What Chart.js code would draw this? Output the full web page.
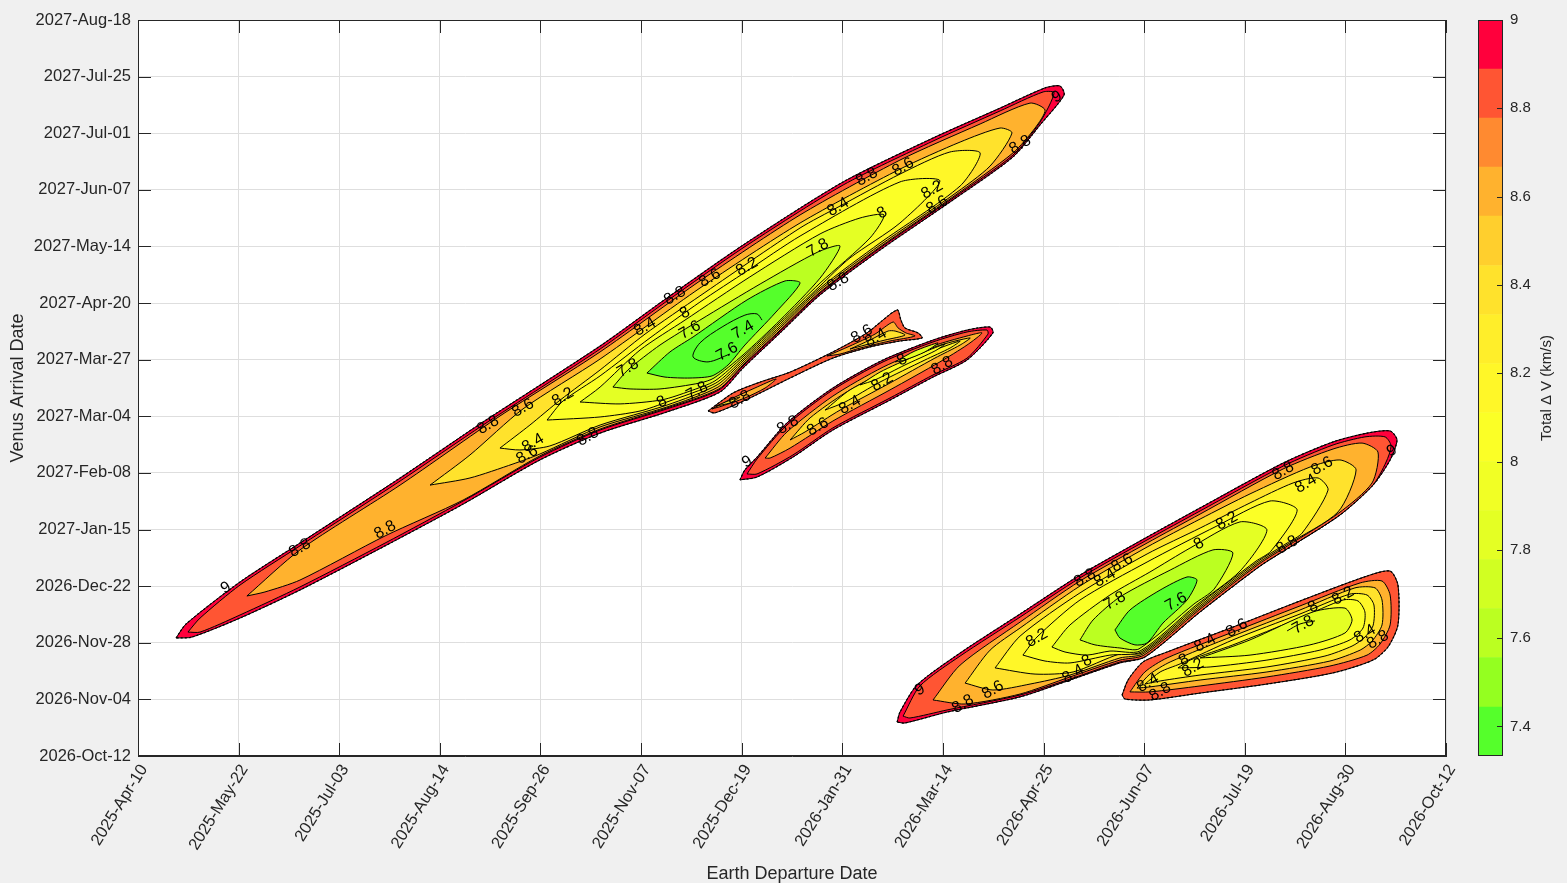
<!DOCTYPE html>
<html>
<head>
<meta charset="utf-8">
<script src="https://cdn.jsdelivr.net/npm/chart.js@4.4.1/dist/chart.umd.min.js"></script>
<style>
  html, body { margin: 0; padding: 0; background: #f0f0f0; }
  #wrap { position: relative; width: 1567px; height: 883px; }
  #main { position: absolute; left: 0; top: 0; }
  #cbar { position: absolute; left: 1446px; top: 0; }
</style>
</head>
<body>
<div id="wrap">
  <canvas id="main" width="1567" height="883"></canvas>
  <canvas id="cbar" width="121" height="883"></canvas>
</div>
<script>
// === DATI: assi in giorni (x dal 2025-Apr-10, y dal 2026-Oct-12) ===
const xSpanDays = 550;
const ySpanDays = 310;
const xTickLabels = ['2025-Apr-10', '2025-May-22', '2025-Jul-03', '2025-Aug-14', '2025-Sep-26', '2025-Nov-07', '2025-Dec-19',
  '2026-Jan-31', '2026-Mar-14', '2026-Apr-25', '2026-Jun-07', '2026-Jul-19', '2026-Aug-30', '2026-Oct-12'];
const yTickLabels = ['2026-Oct-12', '2026-Nov-04', '2026-Nov-28', '2026-Dec-22', '2027-Jan-15', '2027-Feb-08', '2027-Mar-04',
  '2027-Mar-27', '2027-Apr-20', '2027-May-14', '2027-Jun-07', '2027-Jul-01', '2027-Jul-25', '2027-Aug-18'];

// colorbar: 15 bande tra 7.333 e 9 km/s
const cbEdges = [7.333, 7.444, 7.556, 7.667, 7.778, 7.889, 8.0, 8.111, 8.222, 8.333, 8.444, 8.556, 8.667, 8.778, 8.889, 9.0];
const cbColors = ['#55ff2b', '#94ff20', '#bbff21', '#d1ff22', '#e4ff24', '#f1ff25', '#fbff26', '#fff728',
  '#ffee2a', '#ffe22c', '#ffcf2d', '#ffb22e', '#ff8a30', '#ff5533', '#ff003c'];
const cbTicks = [7.4, 7.6, 7.8, 8, 8.2, 8.4, 8.6, 8.8, 9];

// --- lobo A (grande, in alto a sinistra) ---
const A_edge = [[16.0,49.7],[20.2,55.6],[42.9,73.3],[68.1,89.7],[110.2,117.1],[145.1,140.7],[194.3,172.7],[222.4,192.9],[254.4,215.2],[296.5,241.8],[334.3,260.3],[362.5,272.9],[381.4,281.4],[387.7,282.2],[389.4,278.4],[379.3,265.8],[367.9,252.3],[342.7,234.2],[312.0,213.1],[286.8,194.2],[270.0,178.2],[254.4,163.4],[244.7,153.3],[222.4,144.9],[194.3,136.0],[169.0,124.7],[136.7,106.1],[103.9,88.5],[68.1,69.9],[42.9,58.1],[22.7,50.1]];
const A_9 = [[21.0,52.2],[26.1,58.1],[42.9,72.0],[68.1,88.5],[110.2,115.8],[145.1,139.4],[194.3,171.4],[222.4,191.6],[254.4,214.0],[296.5,240.5],[334.3,259.0],[362.5,271.7],[380.6,279.7],[385.2,279.3],[379.3,267.0],[367.9,253.1],[342.7,235.0],[312.0,214.0],[286.8,195.0],[270.0,179.0],[254.4,164.3],[244.3,154.2],[222.4,146.2],[194.3,137.3],[169.0,125.9],[136.7,107.4],[103.9,89.7],[68.1,71.2],[42.9,59.4],[26.1,52.2]];
const A_88 = [[45.8,67.4],[68.1,86.8],[110.2,114.1],[152.2,143.2],[194.3,170.2],[236.3,200.1],[278.4,227.9],[320.4,251.0],[354.1,266.2],[375.1,275.0],[381.4,272.1],[377.2,264.5],[367.9,254.0],[342.7,235.5],[312.0,214.4],[286.8,195.4],[270.0,179.4],[254.4,164.7],[244.3,154.6],[222.4,146.6],[194.3,137.7],[169.0,126.4],[136.7,107.8],[103.9,92.7],[68.1,74.1],[53.4,69.1]];
const A_86 = [[122.8,114.1],[139.6,126.8],[161.9,146.2],[194.3,167.2],[236.3,197.1],[278.4,224.5],[320.4,247.2],[345.7,258.6],[362.5,264.5],[367.5,262.4],[358.3,248.5],[342.7,236.3],[312.0,215.2],[286.8,196.3],[270.0,180.3],[254.4,165.5],[243.9,155.4],[222.4,147.0],[194.3,138.6],[169.0,127.2],[157.7,123.0],[139.6,117.1]];
const A_84 = [[152.2,129.7],[164.8,139.4],[177.5,149.9],[194.3,162.6],[213.2,177.7],[236.3,193.8],[278.4,222.4],[294.4,231.2],[320.4,245.1],[341.4,254.4],[354.1,254.0],[345.7,240.1],[312.0,216.1],[286.8,197.1],[270.0,181.1],[254.4,166.4],[243.5,156.3],[222.4,147.8],[194.3,139.4],[173.2,130.6],[160.6,128.9]];
const A_82 = [[172.0,141.5],[178.7,149.5],[194.3,160.1],[215.3,176.1],[236.3,191.2],[256.1,204.3],[278.4,219.0],[320.4,241.8],[337.2,242.2],[320.4,224.5],[299.4,209.8],[286.8,198.0],[270.0,182.0],[254.4,167.2],[243.0,157.1],[222.4,149.1],[211.1,145.3],[194.3,142.8]];
const A_80 = [[185.9,149.1],[194.3,155.4],[211.1,171.0],[230.0,183.6],[257.3,201.8],[286.8,219.9],[303.6,226.6],[313.7,227.9],[307.8,218.2],[286.8,199.2],[270.0,182.8],[254.4,168.1],[242.6,158.0],[232.1,153.7],[220.3,150.0],[202.7,148.3]];
const A_78 = [[199.7,155.4],[206.0,162.6],[219.5,173.1],[236.3,183.6],[261.6,198.8],[285.9,212.3],[295.2,214.8],[286.8,201.3],[270.0,183.6],[254.4,168.9],[242.2,159.2],[236.3,157.1],[219.5,154.6],[206.9,154.6]];
const A_76 = [[214.0,161.3],[223.7,170.2],[233.4,176.5],[256.1,192.1],[272.1,200.1],[278.4,199.2],[267.9,186.6],[255.2,173.1],[248.1,164.7],[241.4,160.1],[232.1,159.2],[221.6,159.6]];
const A_74 = [[248.9,169.3],[239.7,166.0],[233.4,168.1],[236.3,174.0],[245.6,180.7],[255.2,185.7],[260.3,186.2],[262.4,183.6]];

// --- lobo B (sottile, centrale) ---
const B_edge = [[239.7,145.3],[250.2,152.9],[261.6,157.5],[274.2,161.7],[292.2,170.2],[306.5,178.2],[319.2,187.9],[320.8,183.6],[322.5,180.3],[328.0,178.2],[329.7,176.1],[320.4,174.8],[307.8,172.3],[292.2,167.6],[274.2,159.2],[257.3,150.8],[242.6,144.5]];
const B_88L = [[241.4,146.2],[250.2,150.8],[259.4,155.0],[268.3,158.8],[263.7,155.0],[255.2,150.8],[245.6,147.4]];
const B_86L = [[243.0,147.4],[248.1,149.5],[253.1,151.2],[248.9,148.7]];
const B_88R = [[289.7,168.5],[299.4,172.7],[309.9,177.7],[317.5,182.8],[319.6,180.3],[322.9,178.2],[326.7,176.9],[316.2,174.8],[303.6,171.8],[295.2,169.3]];
const B_86R = [[299.4,171.4],[307.8,175.2],[315.4,179.0],[318.3,179.0],[322.5,177.3],[314.1,175.2],[305.7,173.1]];

// --- lobo C (centrale, sotto B) ---
const C_edge = [[253.1,116.3],[255.2,120.5],[260.3,125.9],[272.9,140.3],[292.2,155.0],[313.3,166.8],[334.3,175.2],[348.6,179.4],[358.3,180.7],[359.5,178.2],[348.6,166.8],[334.3,159.6],[316.2,149.9],[292.2,137.3],[275.4,125.9],[260.3,117.5]];
const C_9 = [[256.1,118.8],[260.3,125.1],[272.9,139.4],[292.2,154.2],[313.3,166.0],[334.3,174.4],[348.6,178.6],[357.0,179.4],[357.4,177.7],[348.6,167.6],[334.3,160.5],[316.2,150.8],[292.2,138.2],[275.4,126.8],[260.3,118.8]];
const C_88 = [[263.7,125.5],[272.9,136.5],[292.2,151.6],[313.3,163.8],[334.3,172.7],[348.6,176.9],[354.9,178.2],[348.6,173.1],[337.2,166.0],[316.2,154.2],[292.2,141.1],[274.2,129.7],[265.8,125.5]];
const C_86 = [[274.2,133.1],[282.6,142.4],[297.3,152.9],[316.2,163.4],[335.1,172.3],[349.9,176.1],[345.7,173.1],[335.1,167.6],[316.2,157.1],[295.2,145.7],[280.5,136.5]];
const C_84 = [[288.9,145.7],[299.4,154.2],[316.2,162.6],[335.1,171.0],[345.7,174.8],[341.4,171.8],[330.9,166.8],[312.0,157.5],[297.3,149.1]];
const C_82 = [[303.6,156.3],[312.0,161.7],[326.7,168.5],[339.3,173.5],[335.1,170.6],[322.5,164.7],[309.9,158.4]];
const C_80 = [[318.3,166.0],[326.7,170.6],[336.4,174.0],[330.9,170.2],[322.5,166.8]];

// --- lobo D (grande, in basso a destra) ---
const D_edge = [[319.2,14.3],[320.4,18.5],[327.6,29.9],[345.7,43.4],[370.9,59.8],[396.1,76.2],[424.3,92.2],[446.6,104.5],[481.5,123.4],[502.5,132.3],[516.8,136.0],[526.5,136.9],[529.4,133.1],[526.5,124.7],[519.3,114.1],[505.4,101.5],[484.4,88.0],[471.8,80.0],[446.6,60.7],[423.4,41.7],[412.9,39.2],[391.9,32.0],[370.9,24.9],[340.2,18.5],[322.5,13.9]];
const D_9 = [[321.7,16.8],[328.8,29.5],[345.7,42.1],[370.9,58.5],[396.1,75.0],[424.3,91.0],[446.6,103.2],[481.5,122.1],[502.5,131.0],[515.9,134.4],[524.4,134.4],[526.9,130.6],[524.8,123.8],[519.3,114.1],[505.4,101.5],[484.4,88.0],[471.8,80.0],[446.6,60.7],[423.4,41.7],[412.9,39.6],[391.9,32.4],[370.9,25.7],[340.2,19.4],[324.6,16.0]];
const D_88 = [[334.3,23.6],[345.7,38.3],[370.9,56.4],[396.1,73.7],[424.3,89.7],[446.6,101.9],[481.5,120.9],[502.5,129.3],[514.7,131.8],[521.4,128.0],[518.9,115.0],[505.0,102.4],[484.0,88.9],[471.4,80.9],[446.1,61.5],[423.0,42.5],[412.9,40.4],[391.9,33.3],[370.9,26.1],[347.8,21.9]];
const D_86 = [[347.8,30.7],[358.3,44.6],[370.9,53.9],[396.1,71.6],[424.3,88.0],[446.6,99.8],[467.6,110.4],[492.8,121.7],[505.4,124.7],[512.2,120.5],[504.6,102.8],[483.6,89.3],[471.0,81.3],[445.7,61.9],[422.6,43.0],[412.9,41.3],[391.9,34.1],[375.1,30.3],[359.5,27.8]];
const D_84 = [[360.4,37.1],[370.9,50.5],[396.1,68.7],[424.3,85.1],[446.6,96.0],[467.6,106.6],[485.7,115.0],[496.2,117.1],[500.4,112.0],[489.5,93.9],[483.2,89.7],[470.5,81.7],[445.3,62.3],[422.2,43.4],[412.9,43.0],[393.2,35.4],[377.2,34.5]];
const D_82 = [[372.1,42.5],[378.0,50.1],[396.1,65.7],[424.3,81.7],[453.7,96.9],[476.0,107.4],[487.4,103.6],[476.4,86.3],[470.1,82.1],[444.9,62.8],[421.8,43.8],[408.7,42.5],[391.9,39.2],[381.4,40.0]];
const D_80 = [[384.3,45.9],[391.9,55.2],[408.7,67.8],[425.5,77.5],[442.4,87.6],[463.4,98.6],[474.7,95.2],[463.4,77.9],[444.5,63.2],[421.3,44.2],[408.7,44.2],[399.0,42.5],[389.8,43.8]];
const D_78 = [[396.1,48.9],[401.6,57.3],[412.9,67.0],[434.0,78.3],[452.0,86.8],[460.4,85.5],[452.5,70.3],[444.0,64.0],[420.9,45.1],[412.9,45.5],[402.4,46.8]];
const D_76 = [[410.8,53.1],[417.1,61.5],[429.8,69.9],[441.1,75.4],[445.3,74.1],[441.1,65.7],[431.0,56.0],[424.3,47.6],[419.2,46.8],[412.9,49.7]];

// --- lobo E (piccolo, in basso a destra) ---
const E_edge = [[413.8,25.7],[416.3,32.0],[422.6,39.6],[432.7,43.8],[460.4,54.3],[488.6,65.3],[516.8,75.8],[526.5,77.9],[529.8,72.0],[529.8,55.2],[525.6,45.9],[519.3,40.4],[502.5,35.0],[474.7,30.3],[446.6,26.5],[425.5,23.6],[415.0,24.0]];
const E_88 = [[417.1,27.0],[423.4,35.4],[432.7,41.3],[460.4,52.2],[488.6,63.2],[513.9,72.9],[523.1,73.7],[526.5,67.8],[526.5,55.2],[522.3,47.2],[516.8,42.5],[501.2,37.9],[474.7,33.3],[446.6,29.5],[425.5,27.0]];
const E_86 = [[420.1,28.6],[425.5,34.5],[434.0,39.6],[460.4,50.5],[488.6,61.5],[511.7,70.8],[520.2,70.8],[523.1,65.7],[523.1,55.2],[518.9,48.4],[513.9,44.6],[501.2,40.0],[474.7,35.4],[446.6,32.0],[425.5,29.1]];
const E_84 = [[423.4,30.3],[429.8,35.4],[438.2,38.8],[460.4,48.9],[488.6,59.8],[509.6,68.2],[516.8,67.8],[519.7,63.6],[519.3,54.8],[515.5,49.7],[510.5,46.3],[499.1,42.1],[474.7,37.5],[446.6,34.1],[429.8,31.6]];
const E_82 = [[437.3,37.1],[442.4,40.4],[460.4,46.8],[488.6,58.1],[506.7,65.7],[513.0,65.3],[515.9,60.7],[515.1,53.9],[509.6,48.9],[497.0,44.6],[474.7,40.4],[450.8,37.5]];
const E_80 = [[446.6,41.3],[467.6,48.9],[494.1,60.7],[507.5,62.3],[510.5,57.3],[507.5,51.8],[492.8,46.8],[467.6,42.5]];
const E_78 = [[483.2,52.7],[488.6,55.6],[494.9,56.9]];

// anelli: [punti, valore della banda interna, bordo esterno?]
const rings = [
  [A_edge, 9, true], [A_9, 8.8], [A_88, 8.6], [A_86, 8.4], [A_84, 8.2], [A_82, 8.0], [A_80, 7.8], [A_78, 7.6], [A_76, 7.4],
  [B_edge, 8.8, true], [B_88L, 8.6], [B_86L, 8.4], [B_88R, 8.6], [B_86R, 8.4],
  [C_edge, 9, true], [C_9, 8.8], [C_88, 8.6], [C_86, 8.4], [C_84, 8.2], [C_82, 8.0], [C_80, 7.8],
  [D_edge, 9, true], [D_9, 8.8], [D_88, 8.6], [D_86, 8.4], [D_84, 8.2], [D_82, 8.0], [D_80, 7.8], [D_78, 7.6], [D_76, 7.4],
  [E_edge, 8.8, true], [E_88, 8.6], [E_86, 8.4], [E_84, 8.2], [E_82, 8.0], [E_80, 7.8]
];
const openLines = [A_74, E_78];

// etichette delle isolinee [giorni partenza, giorni arrivo, testo]
const contourLabels = [
  [37.0,70.8,'9'],[68.1,87.6,'8.8'],[103.9,95.2,'8.8'],[147.2,139.4,'8.8'],[161.9,146.6,'8.6'],[178.7,151.2,'8.2'],
  [166.1,131.8,'8.4'],[163.6,126.8,'8.6'],[189.2,134.4,'8.8'],[206.0,163.4,'7.8'],[213.2,180.7,'8.4'],[230.0,186.6,'8'],
  [225.8,193.8,'8.8'],[240.5,201.3,'8.6'],[256.1,206.0,'8.2'],[232.1,179.4,'7.6'],[254.4,179.4,'7.4'],[247.7,170.2,'7.6'],
  [235.1,153.7,'7.8'],[220.3,149.1,'8'],[285.9,214.0,'7.8'],[294.4,231.2,'8.4'],[306.5,243.9,'8.8'],[321.7,248.1,'8.6'],
  [312.9,228.7,'8'],[294.4,199.6,'8.8'],[333.9,238.4,'8.2'],[336.0,232.1,'8.6'],[370.9,257.4,'8.8'],[386.4,277.6,'9'],
  [253.1,150.0,'8.8'],[304.4,177.7,'8.6'],[310.3,176.1,'8.4'],
  [256.1,123.8,'9'],[273.3,139.4,'8.8'],[285.9,138.6,'8.6'],[299.4,147.8,'8.4'],[312.9,157.5,'8.2'],[321.3,166.8,'8'],[338.1,164.3,'8.8'],
  [328.8,27.8,'9'],[346.9,21.9,'8.8'],[359.5,27.8,'8.6'],[378.0,49.7,'8.2'],[393.2,34.5,'8.4'],[399.0,40.0,'8'],[410.8,65.3,'7.8'],
  [398.2,75.0,'8.8'],[406.6,75.0,'8.4'],[413.8,81.3,'8.6'],[446.1,89.3,'8'],[457.9,99.0,'8.2'],[481.5,120.0,'8.8'],
  [491.1,114.6,'8.4'],[497.9,122.1,'8.6'],[527.3,128.5,'9'],[483.2,88.9,'8.8'],[436.5,64.9,'7.6'],
  [489.9,55.2,'7.8'],[494.1,62.8,'8'],[506.7,67.4,'8.2'],[462.1,53.9,'8.6'],[448.7,47.6,'8.4'],[443.6,37.1,'8.2'],
  [439.8,40.4,'8'],[424.7,30.7,'8.4'],[429.8,27.0,'8.8'],[515.9,51.4,'8.4'],[521.4,48.9,'8.8']
];

const FONT = "'Liberation Sans', Arial, Helvetica, sans-serif";
const INK = '#262626';
Chart.defaults.font.family = FONT;

// colore della banda della colormap per un valore
function bandColor(v) {
  let i = 0;
  while (i < cbColors.length - 1 && cbEdges[i + 1] <= v + 1e-6) i++;
  return cbColors[i];
}

function toXY(pts, close) {
  const arr = pts.map(([x, y]) => ({ x, y }));
  if (close) arr.push({ x: pts[0][0], y: pts[0][1] });
  return arr;
}

// === DATASET ===
const datasets = [];
rings.forEach(([pts, val], k) => {
  datasets.push({
    data: toXY(pts, true),
    showLine: true,
    fill: 'shape',
    backgroundColor: bandColor(val),
    borderColor: '#000',
    borderWidth: 1,
    pointRadius: 0,
    tension: 0.25,
    order: 1000 - k
  });
});
// bordo tratteggiato dei lobi
rings.filter(r => r[2]).forEach(([pts]) => {
  datasets.push({
    data: toXY(pts, true),
    showLine: true, fill: false,
    borderColor: '#000', borderWidth: 1.2, borderDash: [2, 2],
    pointRadius: 0, tension: 0.25, order: 2
  });
});
openLines.forEach(pts => {
  datasets.push({
    data: toXY(pts, false),
    showLine: true, fill: false,
    borderColor: '#000', borderWidth: 1,
    pointRadius: 0, tension: 0.3, order: 1
  });
});

// sfondo bianco, cornice e tacche interne
const framePlugin = {
  id: 'frame',
  beforeDraw(chart) {
    const { ctx, chartArea: a } = chart;
    ctx.save();
    ctx.fillStyle = '#ffffff';
    ctx.fillRect(a.left, a.top, a.right - a.left, a.bottom - a.top);
    ctx.restore();
  },
  afterDraw(chart) {
    const { ctx, chartArea: a, scales } = chart;
    ctx.save();
    ctx.strokeStyle = INK;
    ctx.lineWidth = 1;
    ctx.strokeRect(a.left + 0.5, a.top + 0.5, a.right - a.left - 1, a.bottom - a.top - 1);
    ctx.beginPath();
    scales.x.ticks.forEach(t => {
      const px = Math.round(scales.x.getPixelForValue(t.value)) + 0.5;
      ctx.moveTo(px, a.bottom); ctx.lineTo(px, a.bottom - 13);
      ctx.moveTo(px, a.top); ctx.lineTo(px, a.top + 13);
    });
    scales.y.ticks.forEach(t => {
      const py = Math.round(scales.y.getPixelForValue(t.value)) + 0.5;
      ctx.moveTo(a.left, py); ctx.lineTo(a.left + 13, py);
      ctx.moveTo(a.right, py); ctx.lineTo(a.right - 13, py);
    });
    ctx.stroke();
    ctx.restore();
  }
};

// etichette delle isolinee
const labelPlugin = {
  id: 'clabels',
  afterDatasetsDraw(chart) {
    const { ctx, scales } = chart;
    ctx.save();
    ctx.fillStyle = '#000';
    ctx.font = "16px " + FONT;
    ctx.textAlign = 'center';
    ctx.textBaseline = 'middle';
    contourLabels.forEach(([x, y, txt]) => {
      ctx.save();
      ctx.translate(scales.x.getPixelForValue(x), scales.y.getPixelForValue(y));
      ctx.rotate(-Math.PI / 6);
      ctx.fillText(txt, 0, 0);
      ctx.restore();
    });
    ctx.restore();
  }
};

window.mainChart = new Chart(document.getElementById('main'), {
  type: 'scatter',
  data: { datasets },
  options: {
    responsive: false,
    animation: false,
    devicePixelRatio: 1,
    layout: { padding: { top: 20, right: 121, left: 0, bottom: 0 } },
    plugins: { legend: { display: false }, tooltip: { enabled: false } },
    scales: {
      x: {
        type: 'linear', min: 0, max: xSpanDays,
        afterBuildTicks: s => { s.ticks = xTickLabels.map((_, i) => ({ value: i * xSpanDays / 13 })); },
        afterFit: s => { s.height = 127; },
        ticks: {
          callback: (v, i) => xTickLabels[i],
          autoSkip: false, minRotation: 58, maxRotation: 58, padding: 5, labelOffset: 6,
          color: INK, font: { size: 16.5 }
        },
        grid: { color: '#dedede', drawTicks: false },
        border: { color: INK },
        title: { display: true, text: 'Earth Departure Date', color: INK, font: { size: 18 }, padding: { top: 0, bottom: -2 } }
      },
      y: {
        type: 'linear', min: 0, max: ySpanDays,
        afterBuildTicks: s => { s.ticks = yTickLabels.map((_, i) => ({ value: i * ySpanDays / 13 })); },
        afterFit: s => { s.width = 138; },
        ticks: {
          callback: (v, i) => yTickLabels[i],
          autoSkip: false, padding: 7, color: INK, font: { size: 16.5 }
        },
        grid: { color: '#dedede', drawTicks: false },
        border: { color: INK },
        title: { display: true, text: 'Venus Arrival Date', color: INK, font: { size: 18 }, padding: { top: 7, bottom: 0 } }
      }
    }
  },
  plugins: [framePlugin, labelPlugin]
});

// === COLORBAR ===
const cbFrame = {
  id: 'cbFrame',
  afterDraw(chart) {
    const { ctx, chartArea: a, scales } = chart;
    ctx.save();
    ctx.strokeStyle = INK;
    ctx.lineWidth = 1;
    ctx.strokeRect(a.left + 0.5, a.top + 0.5, a.right - a.left - 1, a.bottom - a.top - 1);
    ctx.beginPath();
    cbTicks.forEach(v => {
      const py = Math.round(scales.y.getPixelForValue(v)) + 0.5;
      ctx.moveTo(a.right, py); ctx.lineTo(a.right - 6, py);
    });
    ctx.stroke();
    ctx.fillStyle = INK;
    ctx.font = "15px " + FONT;
    ctx.textAlign = 'center';
    ctx.textBaseline = 'middle';
    ctx.translate(101, (a.top + a.bottom) / 2);
    ctx.rotate(-Math.PI / 2);
    ctx.fillText('Total \u0394 V (km/s)', 0, 0);
    ctx.restore();
  }
};

window.cbChart = new Chart(document.getElementById('cbar'), {
  type: 'bar',
  data: {
    labels: [''],
    datasets: cbColors.map((c, i) => ({
      data: [[cbEdges[i], cbEdges[i + 1]]],
      backgroundColor: c, borderWidth: 0,
      barPercentage: 1, categoryPercentage: 1, grouped: false
    }))
  },
  options: {
    responsive: false,
    animation: false,
    devicePixelRatio: 1,
    layout: { padding: { left: 32, top: 20, bottom: 127, right: 0 } },
    plugins: { legend: { display: false }, tooltip: { enabled: false } },
    scales: {
      x: { display: false },
      y: {
        position: 'right', min: cbEdges[0], max: 9,
        afterBuildTicks: s => { s.ticks = cbTicks.map(v => ({ value: v })); },
        afterFit: s => { s.width = 64; },
        ticks: { padding: 7, color: INK, font: { size: 15 }, callback: v => String(v) },
        grid: { display: false, drawTicks: false },
        border: { display: false }
      }
    }
  },
  plugins: [cbFrame]
});
</script>
</body>
</html>
